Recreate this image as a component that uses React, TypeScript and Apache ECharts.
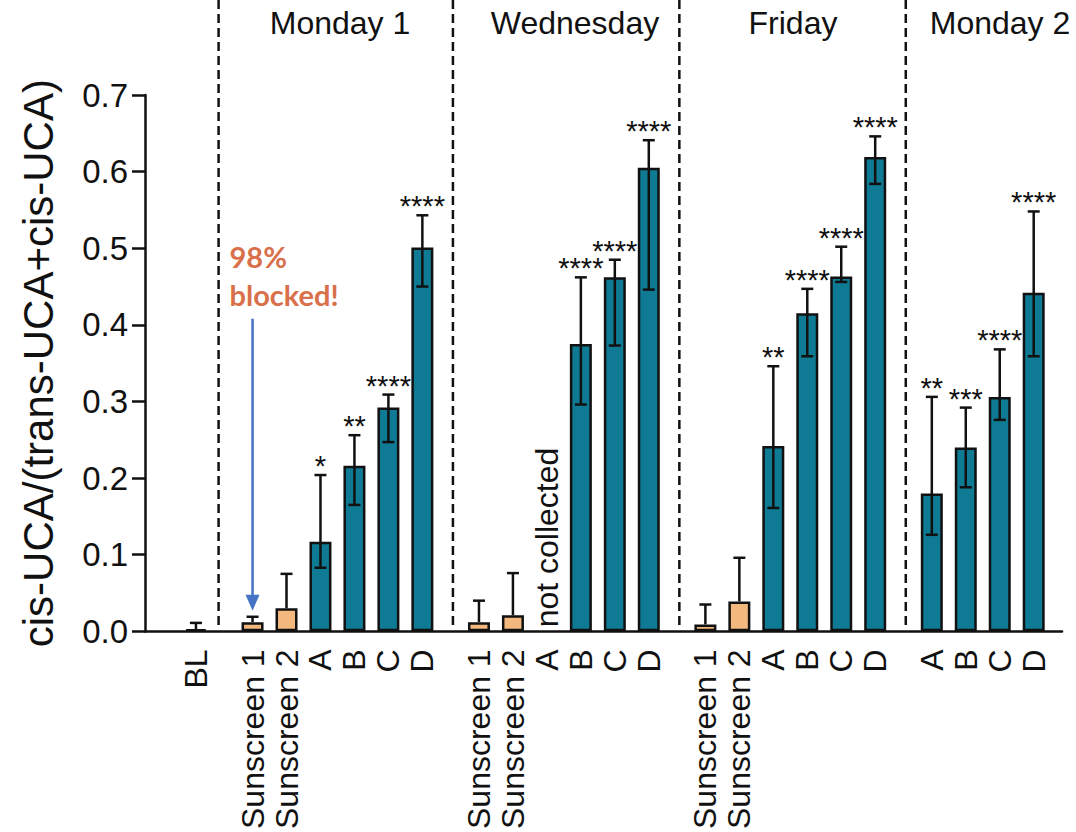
import React, { useEffect, useRef } from "react";
import * as echarts from "echarts";

// ---------- data ----------
const days = ["Monday 1", "Wednesday", "Friday", "Monday 2"];
const labels = [
  "BL",
  "Sunscreen 1", "Sunscreen 2", "A", "B", "C", "D",
  "Sunscreen 1", "Sunscreen 2", "A", "B", "C", "D",
  "Sunscreen 1", "Sunscreen 2", "A", "B", "C", "D",
  "A", "B", "C", "D",
];
const groupOf = [0, 1, 1, 1, 1, 1, 1, 2, 2, 2, 2, 2, 2, 3, 3, 3, 3, 3, 3, 4, 4, 4, 4];
const means = [
  0.003,
  0.012, 0.030, 0.117, 0.216, 0.292, 0.501,
  0.012, 0.021, null, 0.375, 0.462, 0.605,
  0.009, 0.039, 0.242, 0.415, 0.463, 0.619,
  0.180, 0.240, 0.306, 0.442,
];
const errLow = [
  null,
  null, null, 0.083, 0.165, 0.247, 0.450,
  null, null, null, 0.296, 0.373, 0.446,
  null, null, 0.161, 0.359, 0.456, 0.584,
  0.126, 0.188, 0.276, 0.359,
];
const errHigh = [
  0.011,
  0.019, 0.075, 0.204, 0.256, 0.309, 0.543,
  0.040, 0.076, null, 0.462, 0.485, 0.641,
  0.035, 0.096, 0.346, 0.447, 0.502, 0.646,
  0.306, 0.292, 0.368, 0.548,
];
const stars = [
  "",
  "", "", "*", "**", "****", "****",
  "", "", "", "****", "****", "****",
  "", "", "**", "****", "****", "****",
  "**", "***", "****", "****",
];
const yTicks = [0, 0.1, 0.2, 0.3, 0.4, 0.5, 0.6, 0.7];
const annotationText = ["98%", "blocked!"];
const annotationTarget = 1; // Monday 1, Sunscreen 1
const arrowFrom = 0.408;
const arrowTo = 0.027;

// ---------- layout constants ----------
const LEAD = 4;
const WITHIN = 3;
const BETWEEN = 5;
const TRAIL = 2;
const SEP_BEFORE = [3.0, 2.3, 2.3, 2.3]; // separator offset (in units) before each day group
const FONT = "'Liberation Sans', Arial, sans-serif";
const TEAL = "#0e7a93";
const ORANGE = "#f2b87e";
const INK = "#111111";

const positions: number[] = [];
{
  let p = LEAD;
  labels.forEach((_, i) => {
    if (i > 0) p += groupOf[i] !== groupOf[i - 1] ? BETWEEN : WITHIN;
    positions.push(p);
  });
}
const total = positions[positions.length - 1] + 1 + TRAIL;
const categories: string[] = Array(total).fill("");
positions.forEach((p, i) => (categories[p] = labels[i]));

const separators: number[] = [];
for (let i = 1; i < labels.length; i++) {
  if (groupOf[i] !== groupOf[i - 1]) separators.push(positions[i] - SEP_BEFORE[separators.length]);
}

export default function App() {
  const ref = useRef<HTMLDivElement>(null);
  useEffect(() => {
    document.body.style.margin = "0";
    const chart = echarts.init(ref.current!, null, { renderer: "svg" });

    const barData: any[] = Array(total).fill("-");
    labels.forEach((l, i) => {
      if (means[i] == null) return;
      barData[positions[i]] = {
        value: means[i],
        itemStyle: { color: l.startsWith("Sunscreen") ? ORANGE : TEAL },
      };
    });

    const errData = labels.map((_, i) => [
      positions[i],
      means[i] == null ? 0 : errLow[i] ?? means[i],
      means[i] == null ? 0 : errHigh[i],
      i,
    ]);

    const option: any = {
      animation: false,
      grid: { left: 145, right: 14, top: 95, bottom: 197, containLabel: false },
      xAxis: {
        type: "category",
        data: categories,
        boundaryGap: true,
        axisLine: { lineStyle: { color: INK, width: 2.5 } },
        axisTick: {
          alignWithLabel: true,
          interval: (_i: number, v: string) => v !== "",
          length: 14,
          lineStyle: { color: INK, width: 2.5 },
        },
        axisLabel: {
          interval: 0,
          rotate: 90,
          fontSize: 32,
          color: INK,
          margin: 18,
          fontFamily: FONT,
        },
      },
      yAxis: {
        type: "value",
        min: yTicks[0],
        max: yTicks[yTicks.length - 1],
        interval: 0.1,
        name: "cis-UCA/(trans-UCA+cis-UCA)",
        nameLocation: "middle",
        nameGap: 86,
        nameTextStyle: { fontSize: 42, color: INK, fontFamily: FONT },
        axisLine: { show: true, lineStyle: { color: INK, width: 2.5 } },
        axisTick: { show: true, length: 13, lineStyle: { color: INK, width: 2.5 } },
        splitLine: { show: false },
        axisLabel: {
          formatter: (v: number) => v.toFixed(1),
          fontSize: 33,
          color: INK,
          margin: 17,
          fontFamily: FONT,
        },
      },
      series: [
        {
          type: "bar",
          data: barData,
          barWidth: 22,
          itemStyle: { borderColor: INK, borderWidth: 2.5 },
          z: 2,
        },
        {
          type: "custom",
          z: 5,
          clip: false,
          encode: { x: 0, y: [1, 2] },
          data: errData,
          renderItem: (_params: any, api: any) => {
            const i = api.value(3);
            const pos = api.value(0);
            const x = api.coord([pos, 0])[0];
            const y0 = api.coord([pos, 0])[1];
            if (means[i] == null) {
              return {
                type: "text",
                x: x,
                y: y0 - 4,
                rotation: Math.PI / 2,
                style: {
                  text: "not collected",
                  fontSize: 32,
                  fontFamily: FONT,
                  fill: INK,
                  align: "left",
                  verticalAlign: "middle",
                },
              };
            }
            const yHigh = api.coord([pos, api.value(2)])[1];
            const yLow = api.coord([pos, api.value(1)])[1];
            const cap = 6;
            const ls = { stroke: INK, lineWidth: 2.5 };
            const children: any[] = [
              { type: "line", shape: { x1: x, y1: yHigh, x2: x, y2: yLow }, style: ls },
              { type: "line", shape: { x1: x - cap, y1: yHigh, x2: x + cap, y2: yHigh }, style: ls },
            ];
            if (errLow[i] != null) {
              children.push({
                type: "line",
                shape: { x1: x - cap, y1: yLow, x2: x + cap, y2: yLow },
                style: ls,
              });
            }
            if (stars[i]) {
              children.push({
                type: "text",
                x: x,
                y: yHigh - 2,
                style: {
                  text: stars[i],
                  fontSize: 29,
                  lineHeight: 14,
                  fontFamily: FONT,
                  fill: INK,
                  align: "center",
                  verticalAlign: "bottom",
                },
              });
            }
            return { type: "group", children };
          },
        },
        {
          type: "custom",
          z: 1,
          clip: false,
          encode: { x: 0, y: 1 },
          data: separators.map((s) => [Math.floor(s), 0, s]),
          renderItem: (_params: any, api: any) => {
            const s = api.value(2);
            const base = Math.floor(s);
            const bw = api.size([1, 0])[0];
            const x = api.coord([base, 0])[0] + (s - base) * bw;
            const yb = api.coord([base, 0])[1];
            return {
              type: "line",
              shape: { x1: x, y1: 0, x2: x, y2: yb - 4 },
              style: { stroke: INK, lineWidth: 2.5, lineDash: [9, 5] },
            };
          },
        },
        {
          type: "custom",
          z: 6,
          clip: false,
          encode: { x: 0, y: [1, 2] },
          data: [[positions[annotationTarget], arrowFrom, arrowTo]],
          renderItem: (_params: any, api: any) => {
            const pos = api.value(0);
            const [x, yTop] = api.coord([pos, api.value(1)]);
            const yTip = api.coord([pos, api.value(2)])[1];
            const blue = "#4472c4";
            const txt = (t: string, dy: number) => ({
              type: "text",
              x: x - 23,
              y: yTop + dy,
              style: {
                text: t,
                fontSize: 29,
                fontWeight: "bold",
                fontFamily: "Lato, 'Open Sans', sans-serif",
                fill: "#d9704b",
                align: "left",
                verticalAlign: "middle",
              },
            });
            return {
              type: "group",
              children: [
                {
                  type: "line",
                  shape: { x1: x, y1: yTop, x2: x, y2: yTip - 14 },
                  style: { stroke: blue, lineWidth: 2.5 },
                },
                {
                  type: "polygon",
                  shape: { points: [[x - 7, yTip - 16], [x + 7, yTip - 16], [x, yTip]] },
                  style: { fill: blue },
                },
                txt(annotationText[0], -62),
                txt(annotationText[1], -24),
              ],
            };
          },
        },
      ],
      graphic: [
        { x: 340, y: 23, label: days[0] },
        { x: 575, y: 23, label: days[1] },
        { x: 793, y: 23, label: days[2] },
        { x: 1000, y: 23, label: days[3] },
      ].map((h) => ({
        type: "text",
        x: h.x,
        y: h.y,
        style: {
          text: h.label,
          fontSize: 32,
          fontFamily: FONT,
          fill: INK,
          align: "center",
          verticalAlign: "middle",
        },
      })),
    };
    chart.setOption(option);
    return () => chart.dispose();
  }, []);
  return <div ref={ref} style={{ width: 1076, height: 832 }} />;
}
